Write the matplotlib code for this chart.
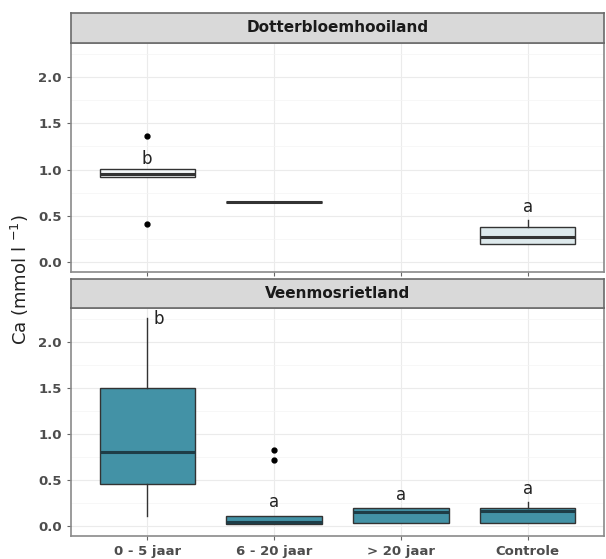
import matplotlib.pyplot as plt

# categorieën
groepen = ["0 - 5 jaar", "6 - 20 jaar", "> 20 jaar", "Controle"]
panelen = ["Dotterbloemhooiland", "Veenmosrietland"]

# boxplot statistieken per paneel (None = geen data)
q1 = {"Dotterbloemhooiland": [0.92, 0.65, None, 0.19],
      "Veenmosrietland": [0.46, 0.02, 0.036, 0.036]}
med = {"Dotterbloemhooiland": [0.955, 0.65, None, 0.27],
       "Veenmosrietland": [0.80, 0.043, 0.148, 0.16]}
q3 = {"Dotterbloemhooiland": [1.01, 0.65, None, 0.38],
      "Veenmosrietland": [1.495, 0.11, 0.20, 0.20]}
whislo = {"Dotterbloemhooiland": [0.92, 0.65, None, 0.19],
          "Veenmosrietland": [0.105, 0.02, 0.036, 0.036]}
whishi = {"Dotterbloemhooiland": [1.01, 0.65, None, 0.45],
          "Veenmosrietland": [2.26, 0.11, 0.20, 0.26]}
uitschieters = {"Dotterbloemhooiland": [[1.36, 0.41], [], [], []],
                "Veenmosrietland": [[], [0.83, 0.72], [], []]}

# letters (significantie)
letters = {"Dotterbloemhooiland": ["b", "", "", "a"],
           "Veenmosrietland": ["b", "a", "a", "a"]}
letter_y = {"Dotterbloemhooiland": [1.11, None, None, 0.59],
            "Veenmosrietland": [2.25, 0.26, 0.34, 0.40]}
letter_dx = {"Dotterbloemhooiland": [0, 0, 0, 0],
             "Veenmosrietland": [0.09, 0, 0, 0]}

kleuren = {"Dotterbloemhooiland": ["#f3f7f8", "#f3f7f8", "#f3f7f8", "#dde9ec"],
           "Veenmosrietland": ["#4392a6", "#4392a6", "#4392a6", "#4392a6"]}
mediaan_kleur = {"Dotterbloemhooiland": "#333333", "Veenmosrietland": "#1e3d47"}

fig = plt.figure(figsize=(6.06, 5.59), dpi=100)
W, H = 606, 559
links, rechts = 71, 604
# (strip top, panel top, panel bottom) in pixels
posities = [(13, 43, 272), (279, 308, 536)]

for i, (paneel, (st, pt, pb)) in enumerate(zip(panelen, posities)):
    ax = fig.add_axes([links / W, (H - pb) / H, (rechts - links) / W, (pb - pt) / H])
    stats = []
    pos = []
    for j in range(len(groepen)):
        if med[paneel][j] is None:
            continue
        stats.append(dict(q1=q1[paneel][j], med=med[paneel][j], q3=q3[paneel][j],
                          whislo=whislo[paneel][j], whishi=whishi[paneel][j],
                          fliers=uitschieters[paneel][j]))
        pos.append(j + 1)
    bp = ax.bxp(stats, positions=pos, widths=0.75, patch_artist=True, showcaps=False,
                boxprops=dict(edgecolor="#333333", linewidth=1.0),
                whiskerprops=dict(color="#333333", linewidth=1.0),
                medianprops=dict(color=mediaan_kleur[paneel], linewidth=2.2),
                flierprops=dict(marker="o", markerfacecolor="black", markeredgecolor="black",
                                markersize=3.5))
    for patch, p in zip(bp["boxes"], pos):
        patch.set_facecolor(kleuren[paneel][p - 1])
        patch.set_zorder(2)
    for j in range(len(groepen)):
        if letters[paneel][j]:
            ax.text(j + 1 + letter_dx[paneel][j], letter_y[paneel][j], letters[paneel][j],
                    ha="center", va="center", fontsize=12, color="#222222")

    ax.set_xlim(0.4, 4.6)
    ax.set_ylim(-0.11, 2.37)
    ax.set_yticks([0, 0.5, 1.0, 1.5, 2.0])
    ax.set_yticklabels(["0.0", "0.5", "1.0", "1.5", "2.0"])
    ax.set_yticks([0.25, 0.75, 1.25, 1.75, 2.25], minor=True)
    ax.set_xticks(range(1, len(groepen) + 1))
    if i == 1:
        ax.set_xticklabels(groepen, fontweight="bold", fontsize=9.5, color="#4d4d4d")
    else:
        ax.set_xticklabels([])
    ax.tick_params(axis="both", which="major", length=3, color="#666666", labelcolor="#4d4d4d")
    ax.tick_params(axis="y", labelsize=9.5)
    ax.tick_params(which="minor", length=0)
    for lab in ax.get_yticklabels():
        lab.set_fontweight("bold")
    ax.grid(True, which="major", color="#ebebeb", linewidth=0.8)
    ax.grid(True, which="minor", axis="y", color="#f4f4f4", linewidth=0.5)
    ax.set_axisbelow(True)
    for s in ax.spines.values():
        s.set_color("#8a8a8a")
        s.set_linewidth(1.2)

    # strip
    sax = fig.add_axes([links / W, (H - pt) / H, (rechts - links) / W, (pt - st) / H])
    sax.set_xticks([])
    sax.set_yticks([])
    sax.set_facecolor("#d9d9d9")
    for s in sax.spines.values():
        s.set_color("#6a6a6a")
        s.set_linewidth(1.2)
    sax.text(0.5, 0.5, paneel, ha="center", va="center", fontsize=11,
             fontweight="bold", color="#1a1a1a", transform=sax.transAxes)

fig.text(20 / W, 0.5, "Ca (mmol l $^{-1}$)", rotation=90, ha="center", va="center",
         fontsize=13, color="#222222")

fig.savefig("out.png", dpi=100)
